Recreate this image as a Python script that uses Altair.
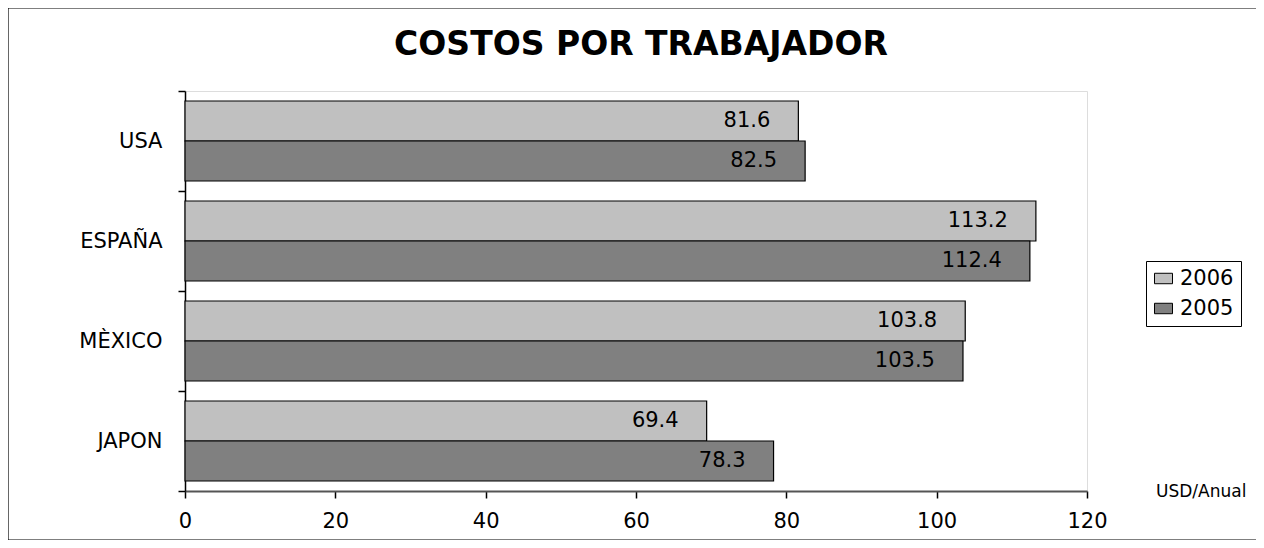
import altair as alt
import pandas as pd

categories = ["USA", "ESPAÑA", "MÈXICO", "JAPON"]
series = ["2006", "2005"]
values_2006 = [81.6, 113.2, 103.8, 69.4]
values_2005 = [82.5, 112.4, 103.5, 78.3]
x_ticks = [0, 20, 40, 60, 80, 100, 120]
title_text = "COSTOS POR TRABAJADOR"
unit_text = "USD/Anual"

rows = []
for c, a, b in zip(categories, values_2006, values_2005):
    rows.append({"pais": c, "anio": "2006", "valor": a})
    rows.append({"pais": c, "anio": "2005", "valor": b})
df = pd.DataFrame(rows)

FONT = "DejaVu Sans"

y_enc = alt.Y("pais:N", sort=categories, title=None,
              scale=alt.Scale(paddingInner=0, paddingOuter=0),
              axis=alt.Axis(tickBand="extent", labelFontSize=21, labelColor="black",
                            labelFont=FONT, domainColor="black", tickColor="black",
                            tickSize=7, labelPadding=16, domainWidth=1.5, tickWidth=1.5))
x_enc = alt.X("valor:Q", title=None,
              scale=alt.Scale(domain=[0, 120], nice=False),
              axis=alt.Axis(values=x_ticks, grid=False, labelFontSize=21, labelColor="black",
                            labelFont=FONT, domainColor="#555555", tickColor="black",
                            tickSize=7, labelPadding=12, domainWidth=2, tickWidth=1.5,
                            labelFlush=False))
yoff = alt.YOffset("anio:N", sort=series, scale=alt.Scale(paddingOuter=0.25, paddingInner=0))
color = alt.Color("anio:N", sort=series,
                  scale=alt.Scale(domain=series, range=["#C0C0C0", "#808080"]),
                  legend=alt.Legend(title=None, orient="none", legendX=961, legendY=170,
                                    labelFontSize=21, labelFont=FONT, labelColor="black",
                                    symbolType="M-1,-0.58H1V0.58H-1Z", symbolSize=324,
                                    symbolStrokeColor="black", symbolStrokeWidth=1,
                                    strokeColor="black", padding=7, rowPadding=8,
                                    labelOffset=6))

bars = alt.Chart(df).mark_bar(stroke="black", strokeWidth=1.2, opacity=1).encode(
    y=y_enc, x=x_enc, yOffset=yoff, color=color
)

labels = alt.Chart(df).mark_text(align="right", baseline="middle", dx=-28,
                                 fontSize=21, font=FONT, color="black").encode(
    y=alt.Y("pais:N", sort=categories),
    x=alt.X("valor:Q"),
    yOffset=alt.YOffset("anio:N", sort=series),
    text=alt.Text("valor:Q", format=".1f"),
)

unit = alt.Chart(pd.DataFrame({"t": [unit_text]})).mark_text(
    align="left", baseline="middle", fontSize=17, font=FONT, color="black"
).encode(x=alt.value(971), y=alt.value(401), text="t:N")

title = alt.Chart(pd.DataFrame({"t": [title_text]})).mark_text(
    align="center", baseline="alphabetic", fontSize=33, font=FONT, fontWeight="bold",
    color="black"
).encode(x=alt.value(456), y=alt.value(-36), text="t:N")

border = alt.Chart(pd.DataFrame({"t": [0]})).mark_rect(
    fill=None, stroke="black", strokeWidth=1.2
).encode(x=alt.value(-177), x2=alt.value(1072), y=alt.value(-83), y2=alt.value(449))

chart = alt.layer(border, bars, labels, unit, title).resolve_scale(
    y="shared", x="shared"
).properties(
    width=902, height=400,
    autosize=alt.AutoSizeParams(type="none"),
    padding={"left": 177, "top": 83, "right": 169, "bottom": 49},
).configure_view(stroke="#808080", strokeWidth=2).configure(background="white")

chart.save("out.html", embed_options={"renderer": "svg", "actions": False})
